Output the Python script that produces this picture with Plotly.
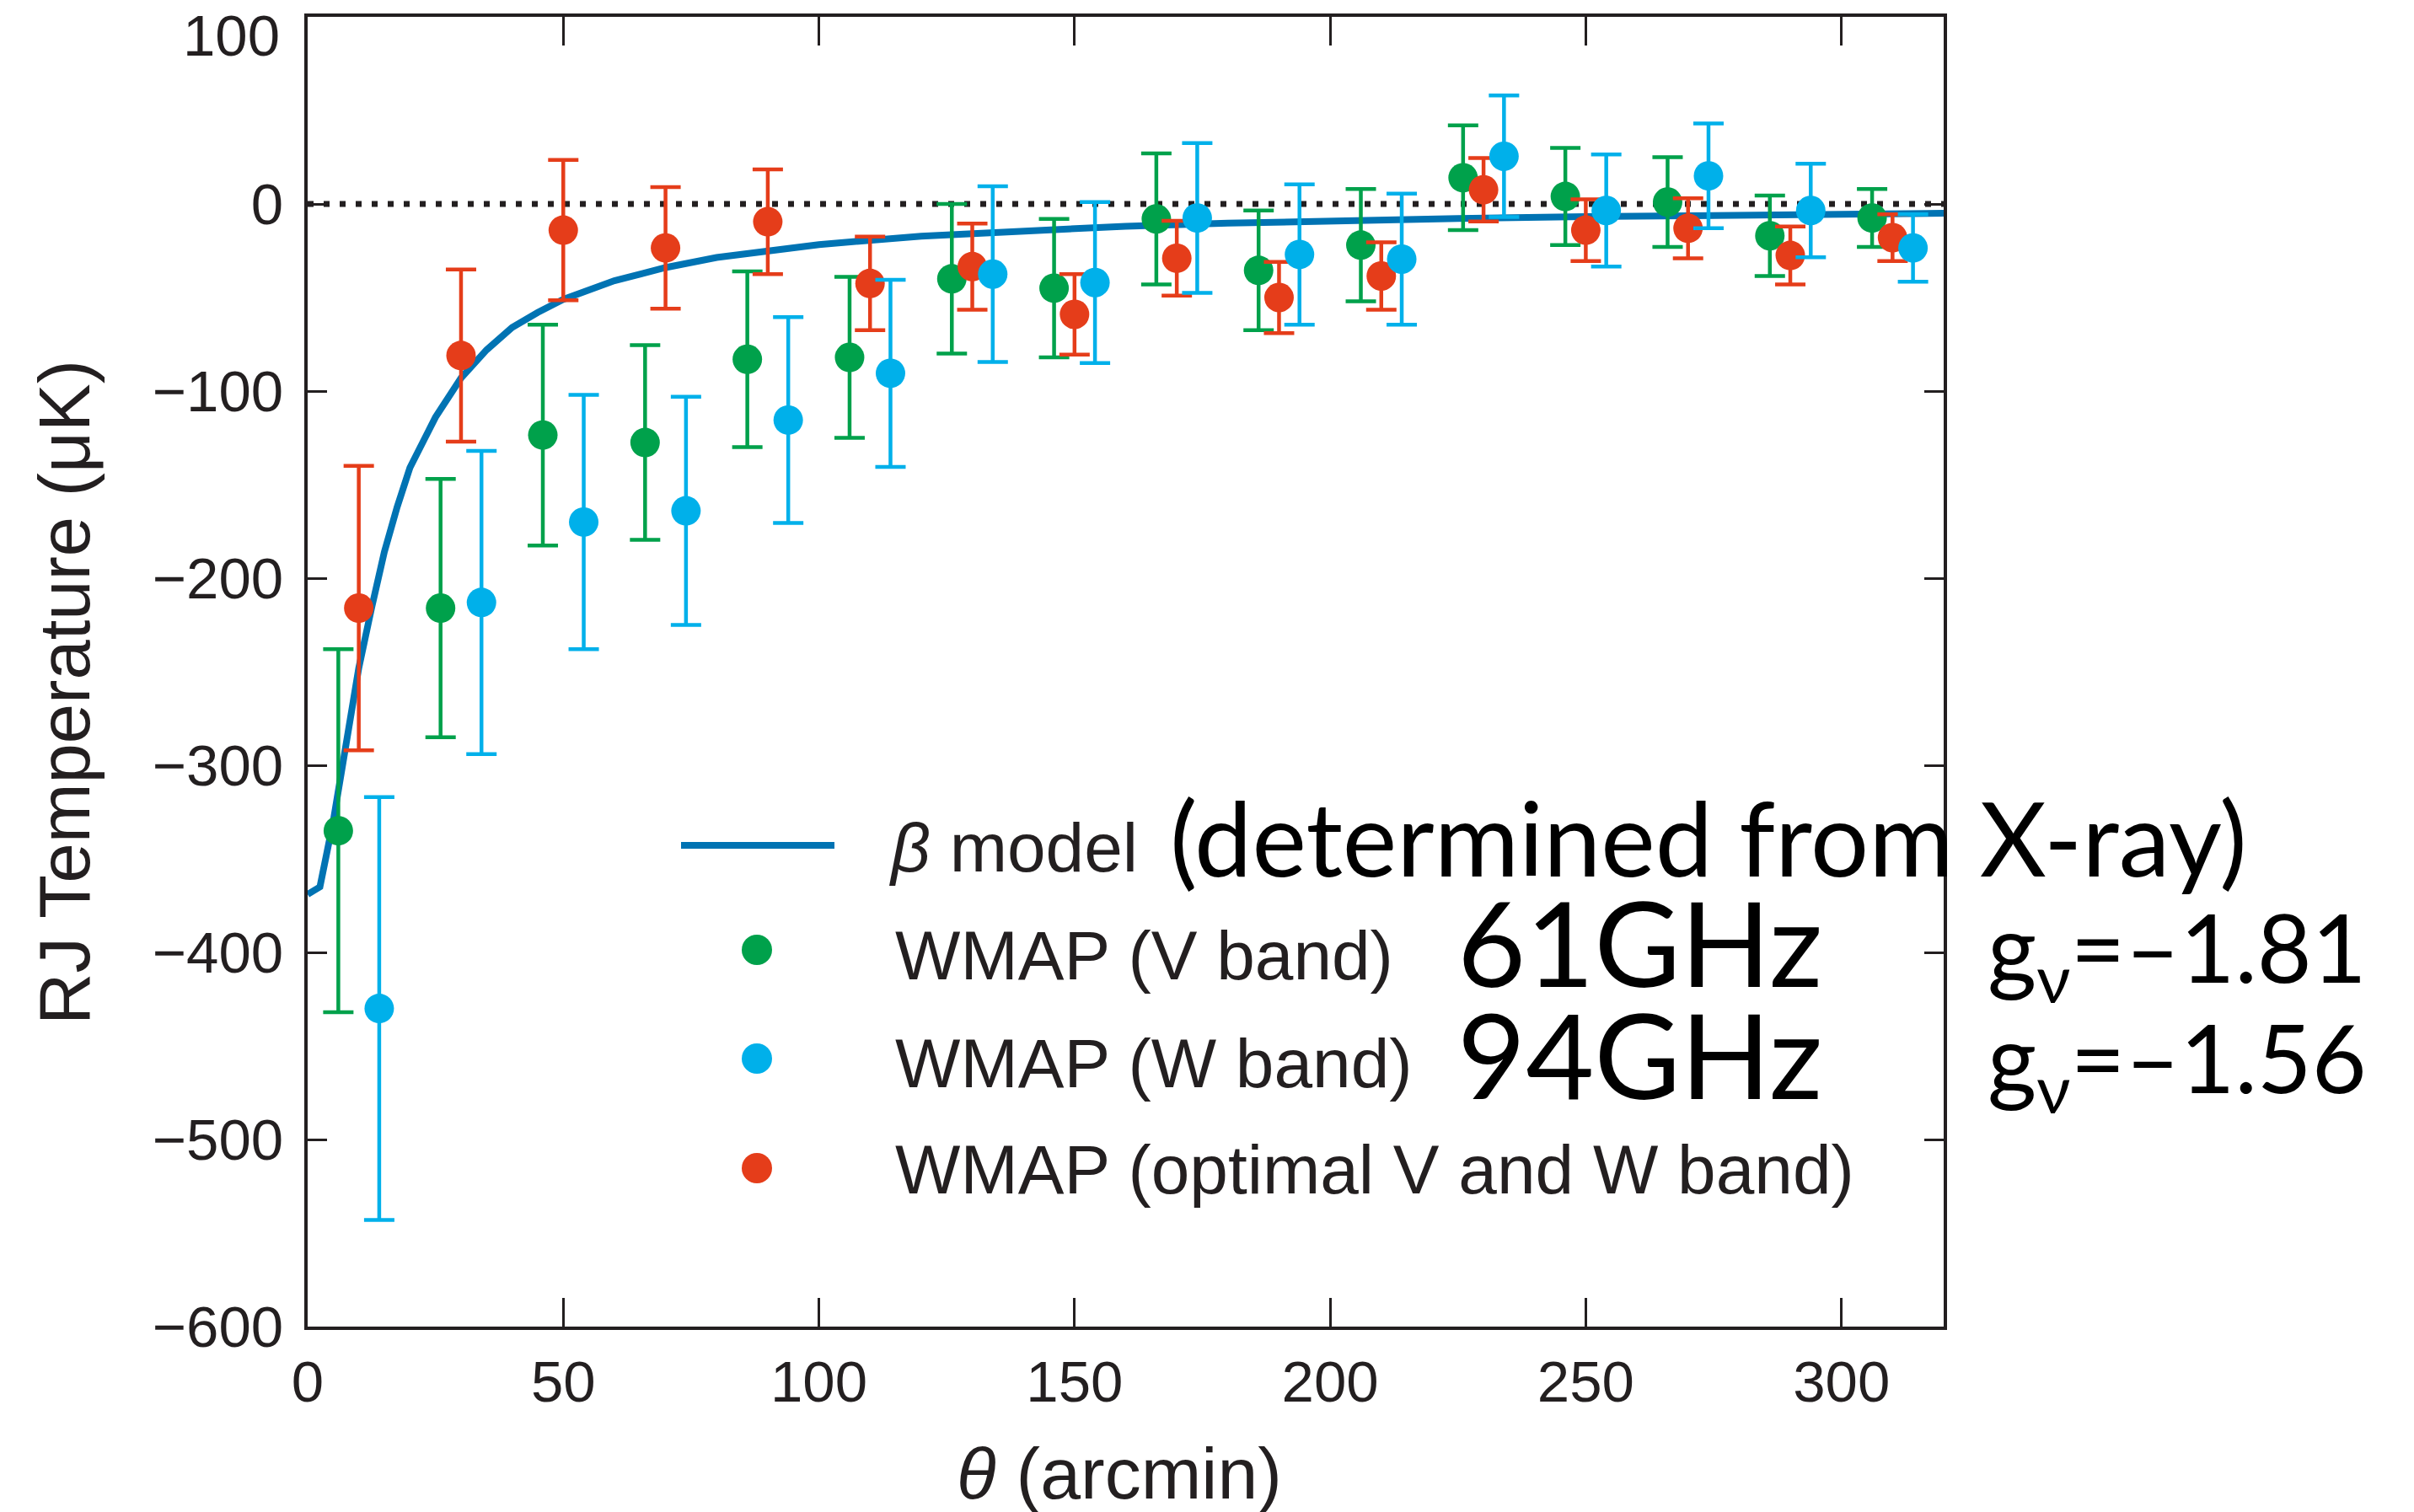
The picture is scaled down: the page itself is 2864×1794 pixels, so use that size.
import plotly.graph_objects as go

# WMAP V band (61 GHz)
green_x = [6, 26, 46, 66, 86, 106, 126, 146, 166, 186, 206, 226, 246, 266, 286, 306]
green_y = [-335, -216, -123.5, -127.5, -83, -82, -40, -45, -8, -35.5, -22, 14, 4, 1, -17, -7.5]
green_err = [97, 69, 59, 52, 47, 43, 40, 37, 35, 32, 30, 28, 26, 24, 21.5, 15.5]

# WMAP W band (94 GHz)
blue_x = [14, 34, 54, 74, 94, 114, 134, 154, 174, 194, 214, 234, 254, 274, 294, 314]
blue_y = [-430, -213, -170, -164, -115.5, -90.5, -37.5, -42, -7.5, -27, -29.5, 25.5, -3.5, 15, -3.5, -23.5]
blue_err = [113, 81, 68, 61, 55, 50, 47, 43, 40, 37.5, 35, 32.5, 30, 28, 25, 18]

# WMAP optimal V and W band
red_x = [10, 30, 50, 70, 90, 110, 130, 150, 170, 190, 210, 230, 250, 270, 290, 310]
red_y = [-216, -81, -14, -23.5, -9.5, -42.5, -33.5, -59, -29, -50, -38.5, 7.6, -14, -13, -27.5, -18]
red_err = [76, 46, 37.5, 32.5, 28, 25, 23, 21.5, 20, 19, 18, 17, 16.5, 16, 15.5, 12.5]

# beta model curve
model_x = [0, 2.4, 5, 7.5, 10, 12.5, 15, 17.5, 20, 25, 30, 35, 40, 45, 50, 60, 70, 80, 90,
           100, 120, 140, 160, 180, 200, 225, 250, 275, 300, 320]
model_y = [-369, -365, -330, -287, -248, -216, -186, -162, -141, -114, -93, -78, -66, -58, -51,
           -41, -34, -28.6, -24.7, -21.7, -17.2, -14.2, -11.9, -10.3, -9.0, -7.8, -6.8, -6.0, -5.4, -5.0]

x_ticks = [0, 50, 100, 150, 200, 250, 300]
y_ticks = [100, 0, -100, -200, -300, -400, -500, -600]
y_labels = ["", "0", "−100", "−200", "−300", "−400", "−500", "−600"]  # top "100" drawn separately

GREEN = "#00a14b"
BLUE = "#00b0ea"
RED = "#e53d1a"
MODEL = "#0073b3"
INK = "#231f20"

# plot area in page pixels (page body has an 8px margin)
PAD = 8
L, R, T, B = 365, 2306, 20, 1574
def px(x):
    return (x - L) / (R - L)
def py(y):
    return (B - y) / (B - T)

fig = go.Figure()

fig.add_trace(go.Scatter(x=model_x, y=model_y, mode="lines",
                         line=dict(color=MODEL, width=8), showlegend=False))

for xs, ys, es, col in [(green_x, green_y, green_err, GREEN),
                        (red_x, red_y, red_err, RED),
                        (blue_x, blue_y, blue_err, BLUE)]:
    fig.add_trace(go.Scatter(
        x=xs, y=ys, mode="markers",
        marker=dict(color=col, size=35, line=dict(width=0)),
        error_y=dict(type="data", array=es, visible=True, color=col, thickness=4.5, width=18),
        showlegend=False))

# zero reference line
fig.add_shape(type="line", xref="paper", yref="y", x0=0, x1=1, y0=0, y1=0,
              line=dict(color=INK, width=7, dash="7px,12px"), layer="below")

# hand-made legend
fig.add_shape(type="line", xref="paper", yref="paper", x0=px(808), x1=px(990),
              y0=py(1003), y1=py(1003), line=dict(color=MODEL, width=8))
for yy, col in [(1127, GREEN), (1256, BLUE), (1386, RED)]:
    fig.add_shape(type="circle", xref="paper", yref="paper", xsizemode="pixel", ysizemode="pixel",
                  xanchor=px(898), yanchor=py(yy), x0=-18, x1=18, y0=-18, y1=18,
                  fillcolor=col, line=dict(width=0))

helv = "Liberation Sans, Arial, sans-serif"
gill = "Lato, Open Sans, sans-serif"
notes = [
    ("<i>β</i> model", 1053, 1005, 82, helv, INK),
    ("WMAP (V band)", 1060, 1133, 82, helv, INK),
    ("WMAP (W band)", 1060, 1261, 82, helv, INK),
    ("WMAP (optimal V and W band)", 1060, 1387, 82, helv, INK),
    ("(determined from X-ray)", 1386, 993, 122, gill, "black"),
    ("61GHz", 1727, 1117, 140, gill, "black"),
    ("94GHz", 1727, 1250, 140, gill, "black"),
    ("g<sub>ν</sub>=–1.81", 2356, 1131, 112, gill, "black"),
    ("g<sub>ν</sub>=–1.56", 2356, 1262, 112, gill, "black"),
]
for txt, x, y, s, f, c in notes:
    fig.add_annotation(text=txt, xref="paper", yref="paper", x=px(x), y=py(y),
                       xanchor="left", yanchor="middle", showarrow=False,
                       font=dict(size=s, family=f, color=c))

# top y label sits a bit below its tick, as in the original
fig.add_annotation(text="100", xref="paper", yref="paper", x=px(334), y=py(42),
                   xanchor="right", yanchor="middle", showarrow=False,
                   font=dict(size=69, family=helv, color=INK))

# axis titles
fig.add_annotation(text="RJ Temperature (μK)", xref="paper", yref="paper", x=px(77), y=py(822),
                   xanchor="center", yanchor="middle", textangle=-90, showarrow=False,
                   font=dict(size=85, family=helv, color=INK))
fig.add_annotation(text="<i>θ</i> (arcmin)", xref="paper", yref="paper", x=px(1328), y=py(1748),
                   xanchor="center", yanchor="middle", showarrow=False,
                   font=dict(size=86, family=helv, color=INK))

fig.update_xaxes(range=[0, 320], tickvals=x_ticks,
                 ticks="inside", ticklen=34, tickwidth=3, tickcolor=INK,
                 showline=True, linewidth=4, linecolor=INK, mirror="ticks",
                 showgrid=False, zeroline=False, ticklabelstandoff=2,
                 ticklabeloverflow="allow", automargin=False,
                 tickfont=dict(size=69, family=helv, color=INK))
fig.update_yaxes(range=[-600, 100], tickvals=y_ticks, ticktext=y_labels,
                 ticks="inside", ticklen=23, tickwidth=3, tickcolor=INK,
                 showline=True, linewidth=4, linecolor=INK, mirror="ticks",
                 showgrid=False, zeroline=False, ticklabelstandoff=11,
                 ticklabeloverflow="allow", automargin=False,
                 tickfont=dict(size=69, family=helv, color=INK))

fig.update_layout(width=2864 - PAD, height=1794 - PAD, plot_bgcolor="white", paper_bgcolor="white",
                  margin=dict(l=L - PAD, r=2864 - R, t=T - PAD, b=1794 - B), showlegend=False)

fig.write_html("out.html")
